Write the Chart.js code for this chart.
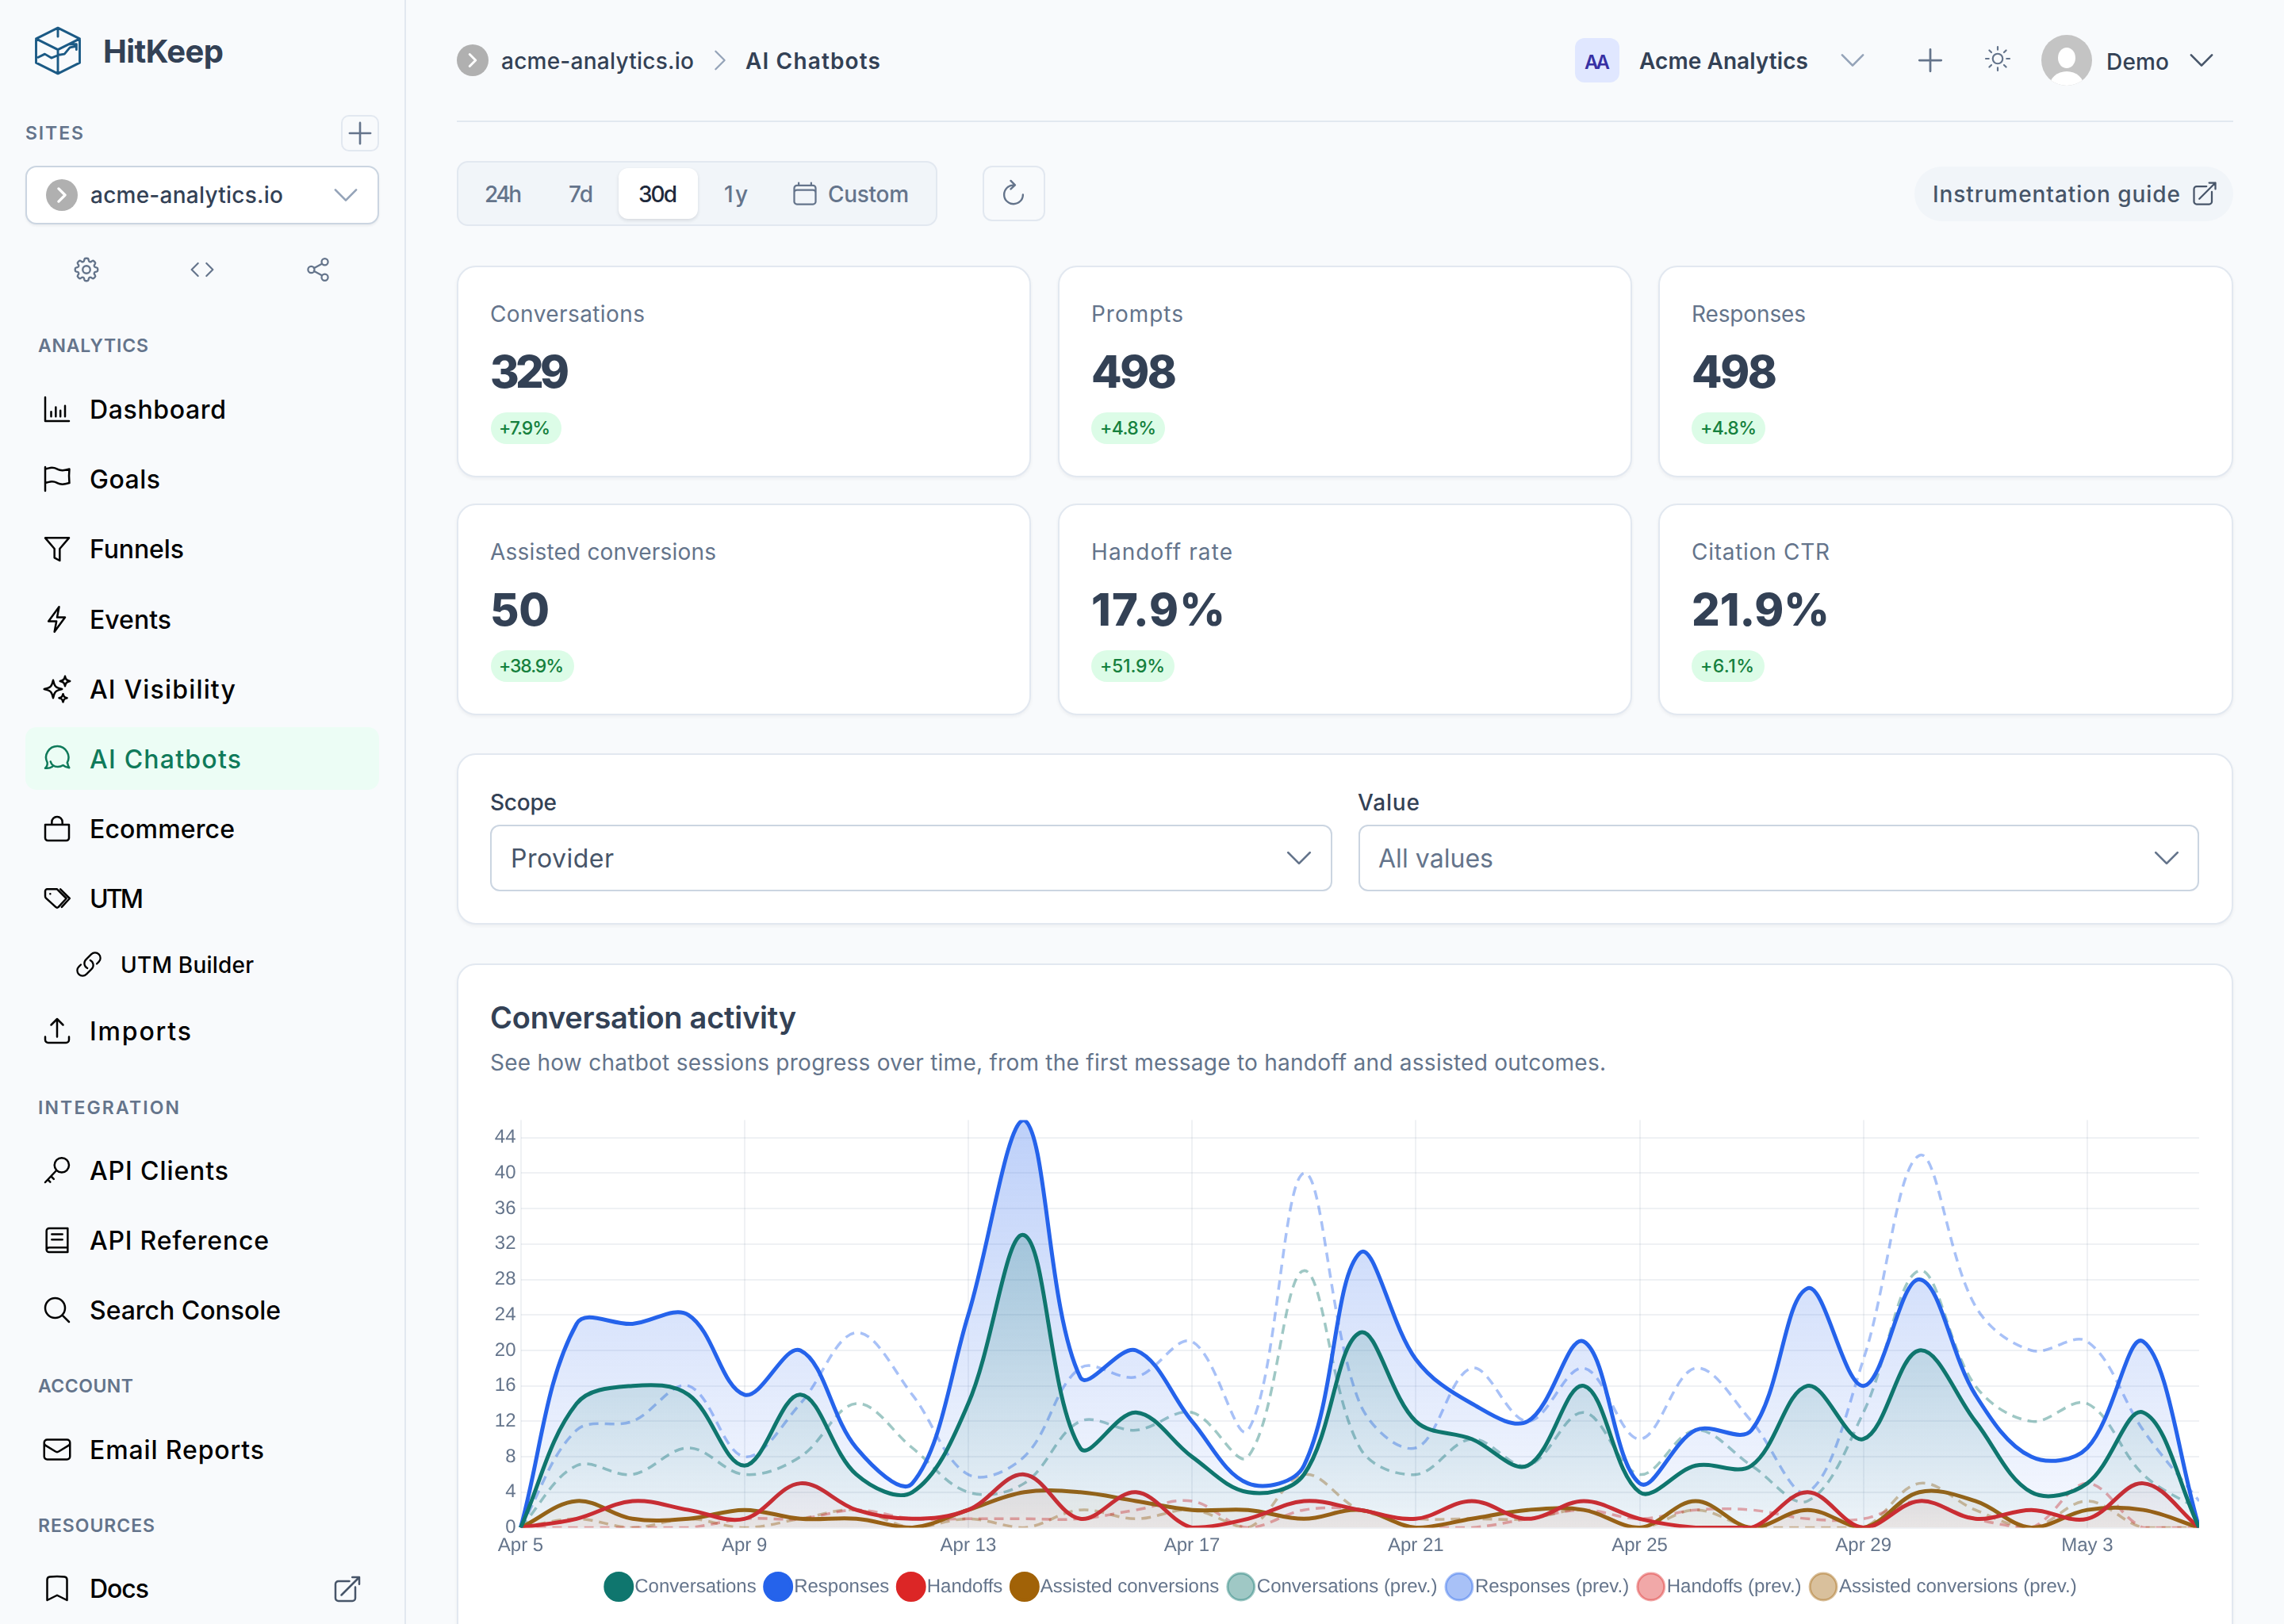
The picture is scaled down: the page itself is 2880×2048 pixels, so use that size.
<!DOCTYPE html>
<html><head><meta charset="utf-8"><title>HitKeep AI Chatbots</title>
<script src="https://cdn.jsdelivr.net/npm/chart.js@4"></script>
<style>
html,body{margin:0;padding:0;width:2880px;height:2048px;overflow:hidden;background:#f8fafc;font-family:Inter,"Noto Sans",sans-serif}
.b{position:absolute;box-sizing:border-box}
.t{position:absolute;white-space:nowrap;transform:translateY(calc(-50% + 1.5px));line-height:1.2;color:#334155;font-weight:500}
.card{background:#fff;border:2px solid #e2e8f0;border-radius:24px;box-shadow:0 2px 4px rgba(15,23,42,.05)}
svg.i{position:absolute;fill:none;stroke-linecap:round;stroke-linejoin:round;overflow:visible}
canvas{position:absolute;left:618px;top:1392px}
</style></head><body>
<div id="ui"></div>
<canvas id="c" width="2155" height="631"></canvas>
<script>
// ---------- chart data ----------
const dayLabels = ["Apr 5","Apr 6","Apr 7","Apr 8","Apr 9","Apr 10","Apr 11","Apr 12","Apr 13","Apr 14","Apr 15","Apr 16","Apr 17","Apr 18","Apr 19","Apr 20","Apr 21","Apr 22","Apr 23","Apr 24","Apr 25","Apr 26","Apr 27","Apr 28","Apr 29","Apr 30","May 1","May 2","May 3","May 4","May 5"];
const conversations = [0,14,16,15,7,15,6,4,14,33,9,13,8,4,6,22,12,10,7,16,4,7,7,16,10,20,12,4,5,13,0];
const responses = [0,23,23,24,15,20,9,5,24,46,17,20,12,5,7,31,19,14,12,21,5,11,11,27,16,28,15,8,9,21,0];
const handoffs = [0,1,3,2,1,5,2,1,2,6,1,4,0,1,3,2,1,3,1,3,1,0,0,4,0,3,1,2,1,5,0];
const assisted = [0,3,1,1,2,1,1,0,2,4,4,3,2,2,1,2,0,1,2,2,0,3,0,2,0,4,3,0,2,2,0];
const conversationsPrev = [0,7,6,9,6,8,14,9,4,5,12,11,13,8,29,9,6,10,7,13,6,11,7,3,13,29,16,12,14,6,2];
const responsesPrev = [0,11,12,16,8,14,22,15,6,8,18,17,21,11,40,14,9,18,12,18,10,18,12,4,19,42,25,20,21,11,3];
const handoffsPrev = [0,0,0,0,1,1,2,1,1,1,1,2,3,0,2,2,0,0,1,2,1,2,2,1,1,3,1,0,5,0,0];
const assistedPrev = [0,1,0,1,0,1,2,0,1,0,2,1,2,0,6,2,1,1,1,2,0,2,0,0,0,5,2,0,3,0,0];
const seriesNames = ["Conversations","Responses","Handoffs","Assisted conversions","Conversations (prev.)","Responses (prev.)","Handoffs (prev.)","Assisted conversions (prev.)"];
const yTickStep = 4;
const yMax = 46;

// ---------- dashboard chrome ----------
const P = {
 plus:"M12 4.5v15m7.5-7.5h-15", down:"M19.5 8.25l-7.5 7.5-7.5-7.5", right:"M8.25 4.5l7.5 7.5-7.5 7.5", code:"M8 6l-6 6 6 6M16 6l6 6-6 6",
 cog:"M10.343 3.94c.09-.542.56-.94 1.11-.94h1.093c.55 0 1.02.398 1.11.94l.149.894c.07.424.384.764.78.93.398.164.855.142 1.205-.108l.737-.527a1.125 1.125 0 011.45.12l.773.774c.39.389.44 1.002.12 1.45l-.527.737c-.25.35-.272.806-.107 1.204.165.397.505.71.93.78l.893.15c.543.09.94.56.94 1.109v1.094c0 .55-.397 1.02-.94 1.11l-.893.149c-.425.07-.765.383-.93.78-.165.398-.143.854.107 1.204l.527.738c.32.447.269 1.06-.12 1.45l-.774.773a1.125 1.125 0 01-1.449.12l-.738-.527c-.35-.25-.806-.272-1.203-.107-.397.165-.71.505-.781.929l-.149.894c-.09.542-.56.94-1.11.94h-1.094c-.55 0-1.019-.398-1.11-.94l-.148-.894c-.071-.424-.384-.764-.781-.93-.398-.164-.854-.142-1.204.108l-.738.527c-.447.32-1.06.269-1.45-.12l-.773-.774a1.125 1.125 0 01-.12-1.45l.527-.737c.25-.35.273-.806.108-1.204-.165-.397-.505-.71-.93-.78l-.894-.15c-.542-.09-.94-.56-.94-1.109v-1.094c0-.55.398-1.02.94-1.11l.894-.149c.424-.07.765-.383.93-.78.165-.398.143-.854-.107-1.204l-.527-.738a1.125 1.125 0 01.12-1.45l.773-.773a1.125 1.125 0 011.45-.12l.737.527c.35.25.807.272 1.204.107.397-.165.71-.505.78-.929l.15-.894zM15 12a3 3 0 11-6 0 3 3 0 016 0z",
 share:"M8.5 10.8l7-3.8M8.5 13.2l7 3.8M9 12a2.7 2.7 0 11-5.4 0 2.7 2.7 0 015.4 0zM20.4 5.5a2.7 2.7 0 11-5.4 0 2.7 2.7 0 015.4 0zM20.4 18.5a2.7 2.7 0 11-5.4 0 2.7 2.7 0 015.4 0z",
 bars:"M3 3v18h18M7.5 14v3.5M11 10.5v7M14.5 13v4.5M18 9.5v8",
 flag:"M3 3v1.5M3 21v-6m0 0l2.77-.693a9 9 0 016.208.682l.108.054a9 9 0 006.086.71l3.114-.732a48.524 48.524 0 01-.005-10.499l-3.11.732a9 9 0 01-6.085-.711l-.108-.054a9 9 0 00-6.208-.682L3 4.5M3 15V4.5",
 funnel:"M3 3.8h18l-7 8.2v9l-4-2.2V12z",
 bolt:"M13.5 2.5L5.5 13.5h6l-1.5 8 8-11h-6z",
 sparkles:"M9.813 15.904L9 18.75l-.813-2.846a4.5 4.5 0 00-3.09-3.09L2.25 12l2.846-.813a4.5 4.5 0 003.09-3.09L9 5.25l.813 2.846a4.5 4.5 0 003.09 3.09L15.75 12l-2.846.813a4.5 4.5 0 00-3.09 3.09zM18.259 8.715L18 9.75l-.259-1.035a3.375 3.375 0 00-2.455-2.456L14.25 6l1.036-.259a3.375 3.375 0 002.455-2.456L18 2.25l.259 1.035a3.375 3.375 0 002.456 2.456L21.75 6l-1.035.259a3.375 3.375 0 00-2.456 2.456zM16.894 20.567L16.5 21.75l-.394-1.183a2.25 2.25 0 00-1.423-1.423L13.5 18.75l1.183-.394a2.25 2.25 0 001.423-1.423l.394-1.183.394 1.183a2.25 2.25 0 001.423 1.423l1.183.394-1.183.394a2.25 2.25 0 00-1.423 1.423z",
 chat:"M3 19c1.2-1 1.8-2.6 1.6-4.2A8.5 8.5 0 1119.6 15M3 19c2 .3 4-.2 5.5-1.2M7 14c.8 2.5 3 4 5.5 4 1.5 0 2.8-.4 4-1.2 1.3 1.1 3 1.7 4.7 1.9-.7-1-1.2-2.3-1.3-3.5",
 bag:"M3 9h18v10a2 2 0 01-2 2H5a2 2 0 01-2-2V9zM8 9V7a4 4 0 018 0v2",
 tag:"M3 6.5A1.5 1.5 0 014.5 5H12l7 7-6 6.5a1.5 1.5 0 01-2 0L3.6 11.8A2 2 0 013 10.4zM14.5 5l7 7-6 6.5M6.8 8.5h.01",
 link:"M13.19 8.688a4.5 4.5 0 011.242 7.244l-4.5 4.5a4.5 4.5 0 01-6.364-6.364l1.757-1.757m13.35-.622l1.757-1.757a4.5 4.5 0 00-6.364-6.364l-4.5 4.5a4.5 4.5 0 001.242 7.244",
 upload:"M3 16.5v2.25A2.25 2.25 0 005.25 21h13.5A2.25 2.25 0 0021 18.75V16.5m-13.5-9L12 3m0 0l4.5 4.5M12 3v13.5",
 key:"M21 8a5.5 5.5 0 11-11 0 5.5 5.5 0 0111 0zM11.5 12L3 21M7.5 16.5l2 2M5 19l1.8 1.8",
 book:"M4 19.5V5a2 2 0 012-2h14v18H6a2 2 0 01-2-1.5zm0 0a2 2 0 012-2h14M8 7.5h8M8 11.5h8",
 search:"M21 21l-5.197-5.197m0 0A7.5 7.5 0 105.196 5.196a7.5 7.5 0 0010.607 10.607z",
 mail:"M21.75 6.75v10.5a2.25 2.25 0 01-2.25 2.25h-15a2.25 2.25 0 01-2.25-2.25V6.75m19.5 0A2.25 2.25 0 0019.5 4.5h-15a2.25 2.25 0 00-2.25 2.25m19.5 0v.243a2.25 2.25 0 01-1.07 1.916l-7.5 4.615a2.25 2.25 0 01-2.36 0L3.32 8.91a2.25 2.25 0 01-1.07-1.916V6.75",
 bookmark:"M17.593 3.322c1.1.128 1.907 1.077 1.907 2.185V21L12 17.25 4.5 21V5.507c0-1.108.806-2.057 1.907-2.185a48.507 48.507 0 0111.186 0z",
 ext:"M13.5 6H5.25A2.25 2.25 0 003 8.25v10.5A2.25 2.25 0 005.25 21h10.5A2.25 2.25 0 0018 18.75V10.5m-10.5 6L21 3m0 0h-5.25M21 3v5.25",
 sun:"M12 3v2.25m6.364.386l-1.591 1.591M21 12h-2.25m-.386 6.364l-1.591-1.591M12 18.75V21m-4.773-4.227l-1.591 1.591M5.25 12H3m4.227-4.773L5.636 5.636M15.75 12a3.75 3.75 0 11-7.5 0 3.75 3.75 0 017.5 0z",
 cal:"M6.75 3v2.25M17.25 3v2.25M3 18.75V7.5a2.25 2.25 0 012.25-2.25h13.5A2.25 2.25 0 0121 7.5v11.25m-18 0A2.25 2.25 0 005.25 21h13.5A2.25 2.25 0 0021 18.75m-18 0v-7.5A2.25 2.25 0 015.25 9h13.5A2.25 2.25 0 0121 11.25v7.5",
 refresh:"M12 6a7.5 7.5 0 1 0 7.5 7.5M9.8 2.5l3.4 3.4-3.4 3.2",
 cube:"M12 1.5L22 6.5v11L12 22.5 2 17.5v-11zM2 6.5L12 11.5 22 6.5M12 1.5v4M12 11.5v11M3 15l3-1.5 3 1.8 3-1.2M12 14l3-.5 2.5-3 2.5-.5M17.5 9h3v2.5"
};
const ui = document.getElementById('ui');
function box(x,y,w,h,css,cls){const d=document.createElement('div');d.className='b '+(cls||'');d.style.cssText=`left:${x}px;top:${y}px;width:${w}px;height:${h}px;${css||''}`;ui.appendChild(d);return d}
function text(s,x,y,size,w,color,weight,extra){const d=document.createElement('div');d.className='t';d.textContent=s;d.style.cssText=`left:${x}px;top:${y}px;font-size:${size}px;color:${color||'#334155'};font-weight:${weight||500};${extra||''}`;ui.appendChild(d);
 if(w){const cur=d.getBoundingClientRect().width;d.style.letterSpacing=((w-cur)/Math.max(1,s.length-1))+'px'}return d}
function icon(n,cx,cy,size,color,sw){const s=document.createElementNS('http://www.w3.org/2000/svg','svg');s.setAttribute('class','i');s.setAttribute('viewBox','0 0 24 24');s.setAttribute('width',size);s.setAttribute('height',size);s.style.left=(cx-size/2)+'px';s.style.top=(cy-size/2)+'px';const p=document.createElementNS('http://www.w3.org/2000/svg','path');p.setAttribute('d',P[n]);p.setAttribute('stroke',color||'#000');p.setAttribute('stroke-width',sw||1.5);s.appendChild(p);ui.appendChild(s)}

// sidebar
box(510,0,2,2048,'background:#e2e8f0');
icon('cube',72.5,64,66,'#1b5a85',1.05);
text('HitKeep',130,63,40,152,'#334155',700);
text('SITES',32,167,23,73,'#64748b',600);
box(430,145,48,46,'border:2px solid #e2e8f0;border-radius:10px;background:#f8fafc');
icon('plus',454,168,42,'#64748b',1.5);
box(32,209,446,74,'background:#fff;border:2px solid #cbd5e1;border-radius:14px;box-shadow:0 2px 3px rgba(15,23,42,.06)');
box(58,226,40,40,'background:#b0b0b0;border-radius:50%');
icon('right',78,246,26,'#fff',3);
text('acme-analytics.io',114,245,28,243,'#334155',500);
icon('down',436,246,42,'#94a3b8',1.5);
icon('cog',109,340,38,'#64748b',1.5);
icon('code',255,340,32,'#64748b',1.6);
icon('share',401,340,36,'#64748b',1.5);
[['ANALYTICS',48,435,139],['INTEGRATION',48,1396,178],['ACCOUNT',48,1747,120],['RESOURCES',48,1923,147]].forEach(a=>text(a[0],a[1],a[2],23,a[3],'#64748b',600));
box(32,917,446,79,'background:#ecfdf5;border-radius:14px');
[['Dashboard',516,172,'bars'],['Goals',604,89,'flag'],['Funnels',692,119,'funnel'],['Events',781,103,'bolt'],['AI Visibility',869,184,'sparkles'],['AI Chatbots',957,191,'chat'],['Ecommerce',1045,183,'bag'],['UTM',1133,68,'tag'],['Imports',1300,128,'upload'],['API Clients',1476,175,'key'],['API Reference',1564,226,'book'],['Search Console',1652,241,'search'],['Email Reports',1828,220,'mail'],['Docs',2003,75,'bookmark']].forEach(a=>{
 const col=a[0]==='AI Chatbots'?'#0f7a5a':'#000';
 text(a[0],113,a[1],32,a[2],col,500);icon(a[3],72,a[1],40,col,1.5);
});
text('UTM Builder',152,1216,28,168,'#000',500);icon('link',112,1216,36,'#000',1.5);
icon('ext',438,2004,40,'#475569',1.5);

// header
box(576,56,40,40,'background:#b0b0b0;border-radius:50%');
icon('right',596,76,24,'#fff',3);
text('acme-analytics.io',632,76,28,243,'#334155',500);
icon('right',908,76,36,'#94a3b8',1.5);
text('AI Chatbots',940,76,28,170,'#334155',600);
box(1986,48,56,56,'background:#e0e7ff;border-radius:12px');
text('AA',1998,78,24,32,'#3730a3',600);
text('Acme Analytics',2067,76,28,213,'#334155',600);
icon('down',2336,76,42,'#94a3b8',1.5);
icon('plus',2434,76,44,'#64748b',1.5);
icon('sun',2519,74,40,'#64748b',1.3);
const av=box(2574,44,64,64,'background:#c4c4c4;border-radius:50%;overflow:hidden');
av.innerHTML='<svg width="64" height="64" viewBox="0 0 64 64"><ellipse cx="32" cy="29" rx="11" ry="13" fill="#fff"/><ellipse cx="32" cy="66" rx="22" ry="20" fill="#fff"/></svg>';
text('Demo',2656,77,28,79,'#334155',500);
icon('down',2776,76,42,'#475569',1.5);
box(576,152,2240,2,'background:#e2e8f0');

// range tabs
box(576,203,606,82,'background:#f1f5f9;border:2px solid #e2e8f0;border-radius:14px');
box(780,212,100,64,'background:#fff;border-radius:12px;box-shadow:0 2px 4px rgba(15,23,42,.12)');
[['24h',611,47,'#64748b'],['7d',717,31,'#64748b'],['30d',805,49,'#1e293b'],['1y',913,30,'#64748b'],['Custom',1044,102,'#64748b']].forEach(a=>text(a[0],a[1],244,28,a[2],a[3],500));
icon('cal',1015,244,36,'#64748b',1.5);
box(1239,209,79,70,'border:2px solid #e2e8f0;border-radius:12px');
icon('refresh',1278,243,38,'#64748b',1.5);
box(2414,210,402,69,'background:#f1f5f9;border-radius:35px');
text('Instrumentation guide',2437,243.5,28,312,'#475569',500);
icon('ext',2780,244,36,'#475569',1.5);

// stat cards
[[576,335,'Conversations',195,'329',100,'+7.9%',89,65],
 [1334,335,'Prompts',116,'498',108,'+4.8%',93,71],
 [2091,335,'Responses',144,'498',108,'+4.8%',93,71],
 [576,635,'Assisted conversions',285,'50',75,'+38.9%',105,82],
 [1334,635,'Handoff rate',178,'17.9%',169,'+51.9%',105,82],
 [2091,635,'Citation CTR',174,'21.9%',174,'+6.1%',92,68]].forEach(c=>{
 const w=c[0]===2091?725:724;
 box(c[0],c[1],w,267,'','card');
 const x=c[0]===576?618:c[0]+42;
 text(c[2],x,c[1]+60,28,c[3],'#64748b',400);
 text(c[4],x,c[1]+133,56,c[5],'#334155',800);
 box(c[0]===576?619:x,c[1]+185,c[7],40,'background:#dcfce7;border-radius:20px');
 text(c[6],x+11,c[1]+204,23,c[8],'#15803d',500);
});

// filter card
box(576,950,2240,216,'','card');
text('Scope',618,1011,28,84,'#334155',500);
text('Value',1712,1011,28,78,'#334155',500);
box(618,1040,1062,84,'background:#fff;border:2px solid #cbd5e1;border-radius:12px');
box(1713,1040,1060,84,'background:#fff;border:2px solid #cbd5e1;border-radius:12px');
text('Provider',644,1081.5,32,130,'#475569',400);
text('All values',1738,1081.5,32,145,'#64748b',400);
icon('down',1638,1082,44,'#64748b',1.5);
icon('down',2732,1082,44,'#64748b',1.5);

// chart card
box(576,1215,2240,900,'','card');
text('Conversation activity',618,1282,38,386,'#334155',600);
text('See how chatbot sessions progress over time, from the first message to handoff and assisted outcomes.',618,1339,28,1407,'#64748b',400);

// ---------- chart ----------
const RGB = {teal:'15,118,110',blue:'37,99,235',red:'220,38,38',brown:'161,98,7'};
const solidColors = ['#0f766e','#2563eb','#dc2626','#a16207'];
function grad(rgb,top,bottom){return c=>{const a=c.chart.chartArea;if(!a)return `rgba(${rgb},${bottom})`;const g=c.chart.ctx.createLinearGradient(0,a.top,0,a.bottom);g.addColorStop(0,`rgba(${rgb},${top})`);g.addColorStop(1,`rgba(${rgb},${bottom})`);return g}}
function mainSet(name,data,i,rgb,top,bottom){return {label:name,data,borderColor:solidColors[i],backgroundColor:grad(rgb,top,bottom),borderWidth:5,fill:'origin',tension:.36,pointRadius:0}}
function prevSet(name,data,rgb){return {label:name,data,borderColor:`rgba(${rgb},.4)`,backgroundColor:`rgba(${rgb},.4)`,borderWidth:3.5,borderDash:[12,8],fill:false,tension:.36,pointRadius:0}}
const font = {family:'"Liberation Sans",Helvetica,Arial,sans-serif',size:24};
const cv = document.getElementById('c');
const crispText = {id:'crispText',
 beforeUpdate(ch){ch.ctx.textRendering='geometricPrecision'},
 beforeDraw(ch){ch.ctx.textRendering='geometricPrecision'}};
new Chart(cv,{
 type:'line',
 plugins:[crispText],
 data:{labels:dayLabels,datasets:[
  mainSet(seriesNames[0],conversations,0,RGB.teal,.3,.04),
  mainSet(seriesNames[1],responses,1,RGB.blue,.3,.04),
  mainSet(seriesNames[2],handoffs,2,RGB.red,.05,.04),
  mainSet(seriesNames[3],assisted,3,RGB.brown,.06,.06),
  prevSet(seriesNames[4],conversationsPrev,RGB.teal),
  prevSet(seriesNames[5],responsesPrev,RGB.blue),
  prevSet(seriesNames[6],handoffsPrev,RGB.red),
  prevSet(seriesNames[7],assistedPrev,RGB.brown)
 ]},
 options:{responsive:false,animation:false,devicePixelRatio:1,
  layout:{padding:0},
  interaction:{mode:'index',intersect:false},
  plugins:{tooltip:{enabled:false},legend:{position:'bottom',labels:{color:'#64748b',font,usePointStyle:true,pointStyle:'circle',boxWidth:16,padding:19.5,
   generateLabels(ch){return ch.data.datasets.map((d,i)=>({text:d.label,datasetIndex:i,fillStyle:i<4?solidColors[i]:d.backgroundColor,strokeStyle:d.borderColor,lineWidth:i<4?4:3,lineDash:[],pointStyle:'circle',fontColor:'#64748b',hidden:false}))}}}},
  scales:{
   x:{afterFit(s){s.height=43},border:{display:false},grid:{color:'rgba(148,163,184,.15)',lineWidth:2,drawTicks:false},
      ticks:{color:'#64748b',font,padding:8.5,maxRotation:0,autoSkip:true,maxTicksLimit:8}},
   y:{min:0,max:yMax,afterFit(s){s.width=38.5},border:{display:false},grid:{color:'rgba(148,163,184,.15)',lineWidth:2,drawTicks:false},
      ticks:{color:'#64748b',font,padding:6,stepSize:yTickStep,includeBounds:false}}
  }
 }
});
</script>
</body></html>
